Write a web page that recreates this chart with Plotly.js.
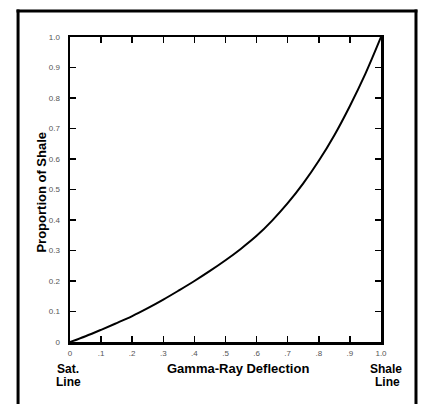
<!DOCTYPE html>
<html>
<head>
<meta charset="utf-8">
<script src="https://cdn.plot.ly/plotly-3.0.1.min.js"></script>
<style>html,body{margin:0;padding:0;background:#fff;}#chart{width:423px;height:404px;}</style>
</head>
<body>
<div id="chart"></div>
<script>
// Data
const deflection = [0, 0.05, 0.1, 0.15, 0.2, 0.25, 0.3, 0.35, 0.4, 0.45, 0.5, 0.55, 0.6, 0.65, 0.7, 0.75, 0.8, 0.85, 0.9, 0.95, 1.0];
const shaleProportion = [0, 0.019, 0.04, 0.062, 0.085, 0.111, 0.139, 0.169, 0.2, 0.233, 0.268, 0.306, 0.348, 0.398, 0.455, 0.52, 0.594, 0.678, 0.774, 0.88, 1.0];
const xTickVals = [0, 0.1, 0.2, 0.3, 0.4, 0.5, 0.6, 0.7, 0.8, 0.9, 1.0];
const xTickText = ['0', '.1', '.2', '.3', '.4', '.5', '.6', '.7', '.8', '.9', '1.0'];
const yTickVals = [0, 0.1, 0.2, 0.3, 0.4, 0.5, 0.6, 0.7, 0.8, 0.9, 1.0];
const yTickText = ['0', '0.1', '0.2', '0.3', '0.4', '0.5', '0.6', '0.7', '0.8', '0.9', '1.0'];

const trace = {
  x: deflection, y: shaleProportion, type: 'scatter', mode: 'lines',
  line: {color: '#000', width: 2, shape: 'spline', smoothing: 1}, hoverinfo: 'skip'
};

const axisCommon = {
  range: [0, 1], showgrid: false, zeroline: false,
  showline: true, linecolor: '#000', linewidth: 2.5, mirror: 'ticks',
  ticks: 'inside', ticklen: 6, tickwidth: 1.5, tickcolor: '#000',
  tickmode: 'array', fixedrange: true,
  tickfont: {family: 'Liberation Sans, Arial, sans-serif', size: 8, color: '#555'}
};

const labelFont = {family: 'Liberation Sans, Arial, sans-serif', size: 12, color: '#000'};
const ann = (text, x, yPx, anchor) => ({
  text: '<b>' + text + '</b>', xref: 'paper', yref: 'paper', x: x, y: -(yPx - 342) / 305,
  xanchor: anchor, yanchor: 'middle', showarrow: false, font: labelFont
});

const layout = {
  width: 423, height: 404,
  margin: {l: 70, r: 42, t: 37, b: 62},
  paper_bgcolor: '#fff', plot_bgcolor: '#fff',
  showlegend: false,
  xaxis: Object.assign({}, axisCommon, {tickvals: xTickVals, ticktext: xTickText, ticklabelstandoff: 2}),
  yaxis: Object.assign({}, axisCommon, {tickvals: yTickVals, ticktext: yTickText, ticklabelstandoff: 6}),
  shapes: [
    {type: 'line', xref: 'paper', yref: 'paper', x0: -0.167, x1: -0.167, y0: 1.09, y1: -0.3, line: {color: '#000', width: 3}},
    {type: 'line', xref: 'paper', yref: 'paper', x0: 1.1125, x1: 1.1125, y0: 1.09, y1: -0.3, line: {color: '#000', width: 3}},
    {type: 'line', xref: 'paper', yref: 'paper', x0: -0.172, x1: 1.117, y0: 1.085, y1: 1.085, line: {color: '#000', width: 3}}
  ],
  annotations: [
    {text: '<b>Gamma-Ray Deflection</b>', xref: 'paper', yref: 'paper', x: 0.54, y: -(368 - 342) / 305, xanchor: 'center', yanchor: 'middle', showarrow: false,
     font: {family: 'Liberation Sans, Arial, sans-serif', size: 13, color: '#000'}},
    ann('Sat.', -0.005, 369, 'center'),
    ann('Line', -0.005, 382, 'center'),
    ann('Shale', 1.015, 369, 'center'),
    ann('Line', 1.022, 382, 'center'),
    {text: '<b>Proportion of Shale</b>', xref: 'paper', yref: 'paper', x: -0.09, y: 0.49, xanchor: 'center', yanchor: 'middle', textangle: -90, showarrow: false,
     font: {family: 'Liberation Sans, Arial, sans-serif', size: 13, color: '#000'}}
  ]
};

Plotly.newPlot('chart', [trace], layout, {displayModeBar: false, staticPlot: true});
</script>
</body>
</html>
